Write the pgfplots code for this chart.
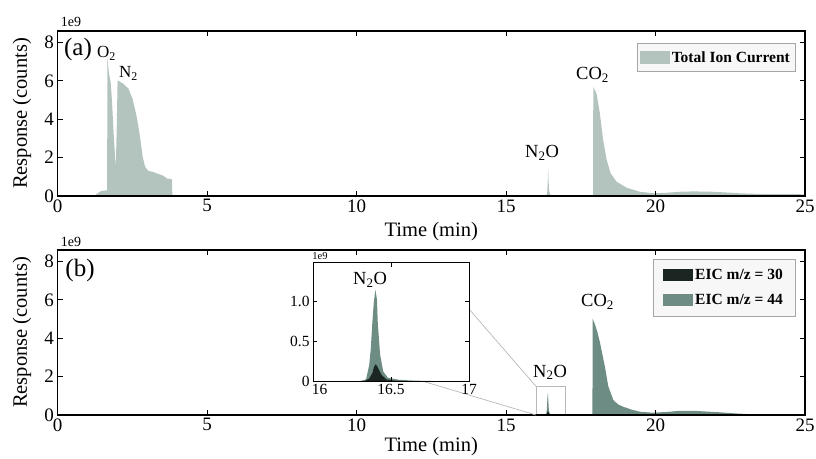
\documentclass[border=0pt]{standalone}
\usepackage{fontspec}
\setmainfont{Liberation Serif}
\usepackage{pgfplots}
\pgfplotsset{compat=1.18}
\usepackage{pgfplotstable}

\definecolor{tic}{HTML}{B3C4BF}
\definecolor{mzff}{HTML}{6D8C84}
\definecolor{mzth}{HTML}{1B2623}
\definecolor{zoomgray}{HTML}{B8B8B8}

% responses in units of 1e9 counts
\pgfplotstableread{
x y
0 0
1.20 0
1.25 0.02
1.35 0.15
1.45 0.25
1.55 0.28
1.66 0.30
1.67 7.24
1.72 6.40
1.78 5.90
1.82 5.00
1.88 3.20
1.95 1.45
1.98 3.50
2.01 6.03
2.20 5.85
2.37 5.60
2.51 5.07
2.65 4.12
2.76 3.08
2.85 2.04
2.93 1.52
3.04 1.31
3.20 1.25
3.32 1.18
3.48 1.09
3.55 1.05
3.65 0.92
3.83 0.87
3.84 0
16.35 0
16.38 0.20
16.40 0.90
16.41 1.44
16.42 0.90
16.44 0.30
16.47 0.08
16.52 0.02
16.60 0
17.91 0
17.92 5.68
18.03 5.33
18.14 4.30
18.25 2.90
18.37 1.87
18.50 1.18
18.70 0.74
19.04 0.43
19.48 0.22
19.93 0.14
20.37 0.17
20.80 0.22
21.27 0.24
21.93 0.22
22.40 0.18
22.83 0.14
23.60 0.10
25.00 0.09
}\tic

\pgfplotstableread{
x y
0 0
16.30 0
16.34 0.02
16.36 0.20
16.37 0.40
16.38 0.73
16.39 1.00
16.40 1.15
16.41 1.02
16.415 0.73
16.43 0.33
16.45 0.12
16.48 0.04
16.55 0.015
16.65 0.005
16.75 0
17.89 0
17.90 5.01
17.98 4.70
18.06 4.30
18.14 3.80
18.31 2.50
18.42 1.50
18.59 0.78
18.75 0.55
18.92 0.43
19.20 0.28
19.48 0.17
19.90 0.12
20.40 0.16
20.82 0.22
21.26 0.22
21.70 0.18
22.16 0.14
22.70 0.08
23.30 0.03
24.00 0.01
25.00 0
}\mzff

\pgfplotstableread{
x y
0 0
16.33 0
16.36 0.03
16.38 0.10
16.39 0.17
16.40 0.21
16.41 0.19
16.42 0.15
16.44 0.075
16.47 0.02
16.52 0.005
16.60 0
25.00 0
}\mzth

\pgfplotsset{
  chrom/.style={
    scale only axis, width=747.5pt, height=165pt,
    xmin=0, xmax=25, ymin=0, ymax=8.6,
    xtick={0,5,...,25}, ytick={0,2,...,8},
    tick align=inside, major tick length=5pt,
    axis line style={line width=1.1pt},
    every tick/.style={black, line width=0.9pt},
    tick label style={font=\fontsize{19}{22}\selectfont},
    /pgf/number format/assume math mode=true,
    xlabel={Time (min)}, ylabel={Response (counts)},
    every axis x label/.style={at={(axis description cs:0.5,-0.215)}, anchor=center,
      font=\fontsize{20.5}{24}\selectfont},
    every axis y label/.style={at={(axis description cs:-0.0475,0.5)}, anchor=center,
      rotate=90, font=\fontsize{20.5}{24}\selectfont},
    axis on top,
    legend cell align=left,
    legend image code/.code={\fill (0pt,-6.3pt) rectangle (30pt,6.3pt);},
    legend style={anchor=north east, draw=black!35, fill=black!3,
      font=\bfseries\fontsize{15.5}{18}\selectfont,
      inner xsep=3pt, inner ysep=6pt, row sep=9pt},
  },
}

\newcommand\ann{\fontsize{18.5}{20}\selectfont}

\begin{document}
\begin{tikzpicture}
\path[use as bounding box] (0,0) rectangle (816pt,458pt);

% (a) total ion current
\begin{axis}[chrom, at={(57.5pt,262pt)}, anchor=south west,
    legend style={at={(0.9866,0.927)}}]
  \addplot[fill=tic, draw=none] table {\tic} \closedcycle;
  \addlegendentry{Total Ion Current}
\end{axis}

% (b) extracted ion chromatograms
\begin{axis}[chrom, at={(57.5pt,43pt)}, anchor=south west,
    every axis x label/.append style={at={(axis description cs:0.5,-0.19)}},
    legend style={at={(0.9866,0.945)}, inner xsep=10pt, inner ysep=8pt}]
  \addlegendimage{fill=mzth, draw=none}
  \addlegendentry{EIC m/z = 30}
  \addlegendimage{fill=mzff, draw=none}
  \addlegendentry{EIC m/z = 44}
  \addplot[fill=mzff, draw=none, forget plot] table {\mzff} \closedcycle;
  \addplot[fill=mzth, draw=none, forget plot] table {\mzth} \closedcycle;
  \addplot[zoomgray, line width=0.8pt, sharp plot, forget plot]
    coordinates {(16,0) (16,1.5) (17,1.5) (17,0)};
  \coordinate (btl) at (axis cs:16,1.5);
  \coordinate (bbl) at (axis cs:16,0);
\end{axis}

\draw[zoomgray, line width=0.7pt] (469pt,149pt) -- (btl);
\draw[zoomgray, line width=0.7pt] (422pt,77pt) -- (bbl);

% inset
\begin{axis}[scale only axis, width=156pt, height=118.3pt,
    at={(313pt,77pt)}, anchor=south west,
    xmin=16, xmax=17, ymin=0, ymax=1.49,
    xtick={16,16.5,17}, xticklabels={\hspace{13pt}16,16.5,17},
    ytick={0,0.5,1}, yticklabels={0,0.5,1.0},
    tick align=inside, major tick length=4pt,
    axis line style={line width=1pt},
    every tick/.style={black, line width=0.8pt},
    tick label style={font=\fontsize{15.5}{18}\selectfont},
    /pgf/number format/assume math mode=true,
    axis background/.style={fill=white},
    axis on top]
  \addplot[fill=mzff, draw=none] table {\mzff} \closedcycle;
  \addplot[fill=mzth, draw=none] table {\mzth} \closedcycle;
\end{axis}

% annotations
\node[font=\fontsize{25}{28}\selectfont] at (78pt,409pt) {(a)};
\node[font=\fontsize{14}{16}\selectfont] at (71pt,436pt) {1e9};
\node[font=\fontsize{17}{19}\selectfont, inner sep=0pt, anchor=base west] at (97pt,400pt) {O\textsubscript{2}};
\node[font=\fontsize{17}{19}\selectfont, inner sep=0pt, anchor=base west] at (119pt,380pt) {N\textsubscript{2}};
\node[font=\ann, inner sep=0pt, anchor=base west] at (525pt,300pt) {N\textsubscript{2}O};
\node[font=\ann, inner sep=0pt, anchor=base west] at (576pt,378pt) {CO\textsubscript{2}};

\node[font=\fontsize{25}{28}\selectfont] at (80pt,188pt) {(b)};
\node[font=\fontsize{14}{16}\selectfont] at (71pt,216pt) {1e9};
\node[font=\ann, inner sep=0pt, anchor=base west] at (533pt,81pt) {N\textsubscript{2}O};
\node[font=\ann, inner sep=0pt, anchor=base west] at (581pt,151pt) {CO\textsubscript{2}};
\node[font=\ann, inner sep=0pt, anchor=base west] at (353pt,173pt) {N\textsubscript{2}O};
\node[font=\fontsize{10.5}{12}\selectfont] at (320pt,201.5pt) {1e9};
\end{tikzpicture}
\end{document}
